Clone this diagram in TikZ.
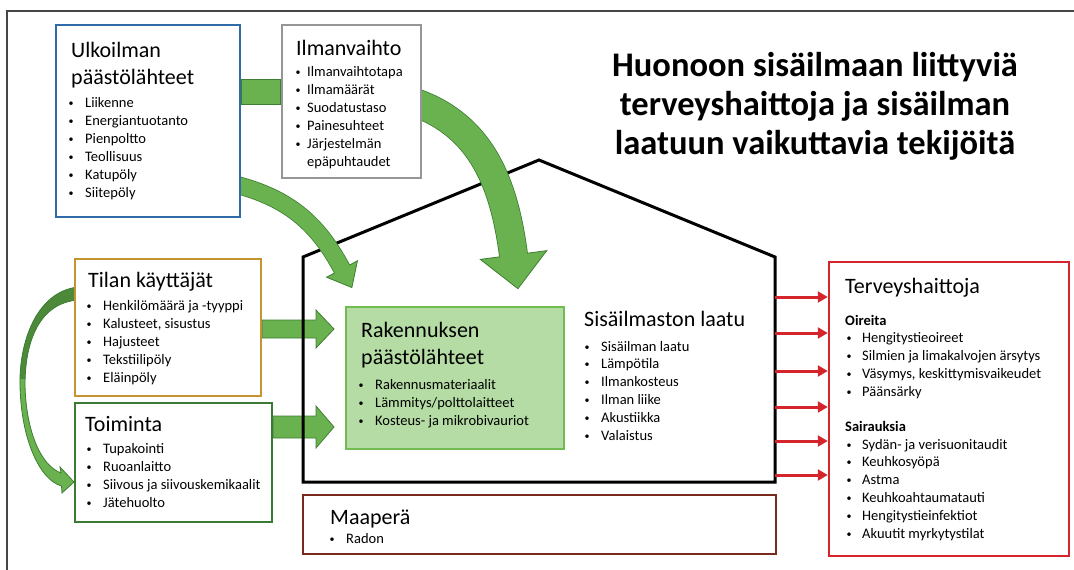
\documentclass[tikz,border=0pt]{standalone}
\usepackage{fontspec}
\setmainfont{Carlito}
\usetikzlibrary{arrows.meta,positioning}

\definecolor{ublue}{RGB}{46,107,168}
\definecolor{vgray}{RGB}{150,150,150}
\definecolor{ugold}{RGB}{198,147,50}
\definecolor{tgreen}{RGB}{58,122,52}
\definecolor{rakfill}{RGB}{180,220,164}
\definecolor{rakline}{RGB}{112,188,82}
\definecolor{mbrown}{RGB}{122,42,28}
\definecolor{hred}{RGB}{212,36,44}
\definecolor{arrowgreen}{RGB}{106,178,80}
\definecolor{arrowdark}{RGB}{62,126,50}
\definecolor{arrowshade}{RGB}{76,138,58}
\definecolor{framegray}{RGB}{70,70,70}

\pgfdeclarelayer{background}
\pgfsetlayers{background,main}

\begin{document}
\begin{tikzpicture}[x=1pt, y=1pt,
    box/.style={draw=#1, line width=2.5pt, fill=white, inner sep=0pt},
    head/.style={anchor=base west, inner sep=0pt, font=\fontsize{22}{26}\selectfont},
    itm/.style={anchor=base west, inner sep=0pt, font=\fontsize{14.5}{18}\selectfont},
    dot/.style={anchor=base, inner sep=0pt, yshift=1pt, font=\fontsize{10}{12}\selectfont},
    sub/.style={itm, font=\fontsize{14.5}{18}\selectfont\bfseries},
    bigtitle/.style={anchor=base, inner sep=0pt, font=\fontsize{34.5}{40}\selectfont\bfseries},
    garrow/.style={draw=arrowdark, fill=arrowgreen, line width=0.8pt, line join=miter},
    redarrow/.style={draw=hred, line width=3pt, -{Triangle[width=11pt,length=10pt]}}
]

    \useasboundingbox (0,0) rectangle (1074,-570);

    % Draw the outer frame
    \draw[framegray, line width=1.3pt] (7,-570) -- (7,-11) -- (1074,-11);

    % Draw the boxes
    \node[box=ublue, minimum width=184pt, minimum height=192pt] (ulk) at (148,-121) {};
    \node[box=vgray, minimum width=139pt, minimum height=153pt] (ilm) at (351.5,-101.5) {};
    \node[box=ugold, minimum width=186pt, minimum height=137pt] (tilan) at (168,-327.5) {};
    \node[box=tgreen, minimum width=197pt, minimum height=119pt] (toim) at (173.5,-462.5) {};
    \node[box=rakline, fill=rakfill, minimum width=218pt, minimum height=142pt] (rak) at (455,-378) {};
    \node[box=mbrown, minimum width=473pt, minimum height=59pt] (maa) at (539.5,-524.5) {};
    \node[box=hred, minimum width=240pt, minimum height=294pt] (terv) at (949,-409) {};

    % Draw the main title
    \node[bigtitle] (title1) at (815,-76) {Huonoon sisäilmaan liittyviä};
    \node[bigtitle] (title2) at (815,-115) {terveyshaittoja ja sisäilman};
    \node[bigtitle] (title3) at (815,-154) {laatuun vaikuttavia tekijöitä};

    % Outdoor air sources
    \node[head] (ulkT1) at (71,-57) {Ulkoilman};
    \node[head] (ulkT2) at (71,-84) {päästölähteet};
    \foreach \t [count=\i from 0] in {Liikenne,Energiantuotanto,Pienpoltto,Teollisuus,Katupöly,Siitepöly} {
        \node[dot] (ulkD\i) at (71,-107-18*\i) {\textbullet};
        \node[itm] (ulkI\i) at (85,-107-18*\i) {\t};
    }

    % Ventilation
    \node[head] (ilmT) at (296,-55) {Ilmanvaihto};
    \foreach \t [count=\i from 0] in {Ilmanvaihtotapa,Ilmamäärät,Suodatustaso,Painesuhteet,Järjestelmän} {
        \node[dot] (ilmD\i) at (298,-76-18*\i) {\textbullet};
        \node[itm] (ilmI\i) at (307,-76-18*\i) {\t};
    }
    \node[itm] (ilmI5) at (307,-166) {epäpuhtaudet};

    % Occupants
    \node[head] (tilanT) at (88,-287) {Tilan käyttäjät};
    \foreach \t [count=\i from 0] in {Henkilömäärä ja -tyyppi,{Kalusteet, sisustus},Hajusteet,Tekstiilipöly,Eläinpöly} {
        \node[dot] (tilanD\i) at (89,-310-18*\i) {\textbullet};
        \node[itm] (tilanI\i) at (103,-310-18*\i) {\t};
    }

    % Activities
    \node[head] (toimT) at (85,-431) {Toiminta};
    \foreach \t [count=\i from 0] in {Tupakointi,Ruoanlaitto,Siivous ja siivouskemikaalit,Jätehuolto} {
        \node[dot] (toimD\i) at (89,-453-18*\i) {\textbullet};
        \node[itm] (toimI\i) at (103,-453-18*\i) {\t};
    }

    % Building sources
    \node[head] (rakT1) at (361,-337) {Rakennuksen};
    \node[head] (rakT2) at (361,-364) {päästölähteet};
    \foreach \t [count=\i from 0] in {Rakennusmateriaalit,Lämmitys/polttolaitteet,Kosteus- ja mikrobivauriot} {
        \node[dot] (rakD\i) at (361,-389-18*\i) {\textbullet};
        \node[itm] (rakI\i) at (375,-389-18*\i) {\t};
    }

    % Indoor climate quality
    \node[head] (sisT) at (584,-326) {Sisäilmaston laatu};
    \foreach \t [count=\i from 0] in {Sisäilman laatu,Lämpötila,Ilmankosteus,Ilman liike,Akustiikka,Valaistus} {
        \node[dot] (sisD\i) at (587,-351-17.8*\i) {\textbullet};
        \node[itm] (sisI\i) at (601,-351-17.8*\i) {\t};
    }

    % Soil
    \node[head] (maaT) at (330,-524) {Maaperä};
    \node[dot] (maaD) at (332,-543) {\textbullet};
    \node[itm] (maaI) at (346,-543) {Radon};

    % Health effects
    \node[head] (tervT) at (845,-293) {Terveyshaittoja};
    \node[sub] (oirT) at (845,-325) {Oireita};
    \foreach \t [count=\i from 0] in {Hengitystieoireet,Silmien ja limakalvojen ärsytys,{Väsymys, keskittymisvaikeudet},Päänsärky} {
        \node[dot] (oirD\i) at (849,-342-18*\i) {\textbullet};
        \node[itm] (oirI\i) at (862,-342-18*\i) {\t};
    }
    \node[sub] (saiT) at (845,-431) {Sairauksia};
    \foreach \t [count=\i from 0] in {Sydän- ja verisuonitaudit,Keuhkosyöpä,Astma,Keuhkoahtaumatauti,Hengitystieinfektiot,Akuutit myrkytystilat} {
        \node[dot] (saiD\i) at (849,-449-17.8*\i) {\textbullet};
        \node[itm] (saiI\i) at (862,-449-17.8*\i) {\t};
    }

    \begin{pgfonlayer}{background}

    % Draw the straight block arrows
    \filldraw[garrow] (ulk.east |- 0,-79) rectangle (ilm.west |- 0,-104);
    \filldraw[garrow] (tilan.east |- 0,-320) -- (316,-320) -- (316,-310) -- (334,-329)
        -- (316,-348) -- (316,-338) -- (tilan.east |- 0,-338) -- cycle;
    \filldraw[garrow] (toim.east |- 0,-416) -- (316,-416) -- (316,-406) -- (334,-427)
        -- (316,-448) -- (316,-438) -- (toim.east |- 0,-438) -- cycle;

    % Draw the house
    \draw[line width=3pt, line join=miter] (303,-482) -- (303,-257) -- (539,-160)
        -- (775,-257) -- (775,-482) -- cycle;
    \coordinate (hwall) at (775,-257);

    % Draw the curved arrow from the outdoor sources
    \draw[arrowdark, line width=18pt] ([xshift=-4pt]ulk.east |- 0,-185) to[out=-15, in=118] (342,-269);
    \begin{scope}[shift={(342,-269)}, rotate=-62]
        \filldraw[garrow] (0,17.5) -- (21,0) -- (0,-17.5) -- cycle;
    \end{scope}
    \draw[arrowgreen, line width=16.4pt] ([xshift=-4pt]ulk.east |- 0,-185) to[out=-15, in=118] (342,-269) -- ++(-62:2);

    % Draw the curved arrow from the ventilation
    \draw[arrowdark, line width=29pt] ([xshift=-6pt]ilm.east |- 0,-103) to[out=-20, in=97.5] (513.5,-255);
    \begin{scope}[shift={(513.5,-255)}, rotate=-82.5]
        \filldraw[garrow] (0,33.5) -- (34,0) -- (0,-33.5) -- cycle;
    \end{scope}
    \draw[arrowgreen, line width=27.4pt] ([xshift=-6pt]ilm.east |- 0,-103) to[out=-20, in=97.5] (513.5,-255) -- ++(-82.5:2);

    % Draw the curved arrow from occupants to activities
    \def\loopath{(78,-287) .. controls (35,-292) and (19,-345) .. (20,-385)
        .. controls (21,-440) and (40,-480) .. (61.5,-486) -- (62,-493) -- (74,-482)
        -- (60,-467) -- (61,-473) .. controls (40,-465) and (26,-430) .. (25,-385)
        .. controls (25,-340) and (40,-303) .. (78,-300) -- cycle}
    \fill[arrowgreen] \loopath;
    \begin{scope}
        \clip (0,-250) rectangle (90,-378);
        \fill[arrowshade] \loopath;
    \end{scope}
    \draw[arrowdark, line width=0.8pt, line join=miter] \loopath;

    % Draw the health effect arrows
    \foreach \y in {297,333,371,407,441,475}
        \draw[redarrow] (hwall |- 0,-\y) -- (terv.west |- 0,-\y);

    \end{pgfonlayer}

\end{tikzpicture}
\end{document}
